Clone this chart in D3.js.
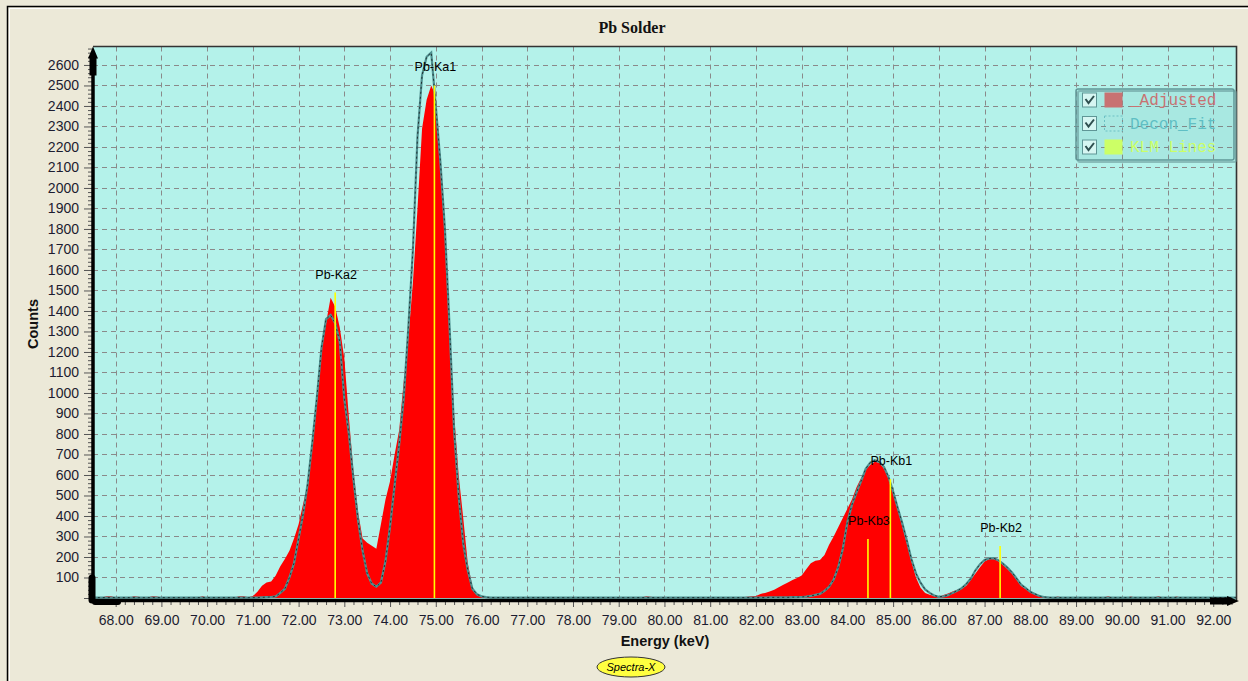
<!DOCTYPE html>
<html><head><meta charset="utf-8">
<script src="https://cdn.jsdelivr.net/npm/d3@7"></script>
<style>html,body{margin:0;padding:0;background:#ECE9D8;overflow:hidden;} svg{display:block;}</style>
</head><body>
<svg id="c" width="1248" height="681"></svg>
<script>
// ---------------- DATA ----------------
const chartTitle = "Pb Solder";
const xAxisTitle = "Energy (keV)";
const yAxisTitle = "Counts";
const badgeText = "Spectra-X";
const legendNames = ["_Adjusted", "Decon_Fit", "KLM Lines"];

// channel calibration: first bin centre (keV) and bin width (keV)
const energyStart = 67.5;
const energyStep = 0.1;

// Adjusted spectrum counts, one per 0.1 keV bin from 67.5 keV
const adjustedCounts = [
  2, 2, 3, 8, 8, 2, 2, 2, 2, 8,            // 67.5 - 68.4
  6, 2, 2, 8, 7, 2, 2, 2, 2, 2,            // 68.5 - 69.4
  2, 2, 2, 2, 8, 2, 2, 2, 2, 2,            // 69.5 - 70.4
  2, 2, 8, 8, 4, 10, 30, 60, 75, 80,       // 70.5 - 71.4
  110, 155, 190, 230, 290, 360, 460, 560, 750, 960,        // 71.5 - 72.4
  1220, 1340, 1465, 1420, 1320, 1170, 880, 620, 420, 290,  // 72.5 - 73.4
  270, 255, 240, 360, 480, 570, 700, 820, 1060, 1270,      // 73.5 - 74.4
  1540, 1900, 2290, 2430, 2500, 2450, 2100, 1780, 1320, 900, // 74.5 - 75.4
  600, 390, 170, 55, 15, 5, 3, 2, 2, 2,    // 75.5 - 76.4
  2, 2, 2, 2, 2, 2, 2, 2, 2, 2,            // 76.5 - 77.4
  2, 2, 2, 2, 2, 2, 2, 2, 2, 2,            // 77.5 - 78.4
  2, 2, 2, 2, 2, 2, 2, 2, 2, 2,            // 78.5 - 79.4
  2, 8, 6, 2, 2, 2, 2, 2, 2, 2,            // 79.5 - 80.4
  2, 2, 2, 2, 2, 2, 2, 2, 2, 2,            // 80.5 - 81.4
  2, 3, 4, 6, 8, 10, 20, 25, 32, 40,       // 81.5 - 82.4
  52, 65, 75, 88, 98, 110, 140, 170, 182, 185,   // 82.5 - 83.4
  210, 260, 300, 345, 390, 435, 480, 540, 585, 625, // 83.5 - 84.4
  650, 665, 660, 630, 590, 530, 440, 350, 270, 180, // 84.5 - 85.4
  100, 50, 25, 16, 10, 5, 15, 22, 32, 40,  // 85.5 - 86.4
  45, 60, 90, 120, 150, 178, 190, 192, 180, 162,    // 86.5 - 87.4
  142, 120, 90, 58, 44, 32, 20, 10, 5, 3,  // 87.5 - 88.4
  2, 7, 2, 2, 2, 2, 2, 2, 2, 2,            // 88.5 - 89.4
  2, 2, 8, 2, 2, 2, 2, 7, 2, 2,            // 89.5 - 90.4
  2, 2, 2, 8, 2, 2, 2, 7, 2, 2,            // 90.5 - 91.4
  2, 2, 2, 2, 2, 2, 2, 2, 2, 2,            // 91.5 - 92.4
  2                                        // 92.5
];

// Deconvolution fit, same bins
const deconFitCounts = [
  2, 2, 2, 2, 2, 2, 2, 2, 2, 2,            // 67.5 - 68.4
  2, 2, 2, 2, 2, 2, 2, 2, 2, 2,            // 68.5 - 69.4
  2, 2, 2, 2, 2, 2, 2, 2, 2, 2,            // 69.5 - 70.4
  2, 2, 2, 2, 2, 2, 2, 3, 4, 5,            // 70.5 - 71.4
  8, 25, 45, 100, 170, 290, 410, 560, 760, 980,          // 71.5 - 72.4
  1220, 1360, 1380, 1340, 1250, 970, 800, 580, 380, 230, // 72.5 - 73.4
  120, 70, 55, 75, 180, 350, 550, 750, 980, 1320,        // 73.5 - 74.4
  1700, 2250, 2550, 2640, 2660, 2400, 2130, 1800, 1330, 820, // 74.5 - 75.4
  500, 265, 135, 45, 18, 8, 4, 2, 2, 2,    // 75.5 - 76.4
  2, 2, 2, 2, 2, 2, 2, 2, 2, 2,            // 76.5 - 77.4
  2, 2, 2, 2, 2, 2, 2, 2, 2, 2,            // 77.5 - 78.4
  2, 2, 2, 2, 2, 2, 2, 2, 2, 2,            // 78.5 - 79.4
  2, 2, 2, 2, 2, 2, 2, 2, 2, 2,            // 79.5 - 80.4
  2, 2, 2, 2, 2, 2, 2, 2, 2, 2,            // 80.5 - 81.4
  2, 2, 2, 2, 2, 2, 2, 2, 3, 3,            // 81.5 - 82.4
  3, 3, 3, 4, 4, 5, 7, 10, 15, 20,         // 82.5 - 83.4
  35, 55, 90, 150, 240, 370, 455, 515, 570, 630,   // 83.5 - 84.4
  660, 672, 664, 640, 590, 520, 440, 365, 280, 190, // 84.5 - 85.4
  120, 75, 42, 25, 12, 6, 8, 14, 25, 35,   // 85.5 - 86.4
  48, 68, 95, 135, 165, 185, 193, 194, 184, 168,   // 86.5 - 87.4
  148, 125, 95, 65, 48, 30, 20, 10, 5, 3,  // 87.5 - 88.4
  2, 2, 2, 2, 2, 2, 2, 2, 2, 2,            // 88.5 - 89.4
  2, 2, 2, 2, 2, 2, 2, 2, 2, 2,            // 89.5 - 90.4
  2, 2, 2, 2, 2, 2, 2, 2, 2, 2,            // 90.5 - 91.4
  2, 2, 2, 2, 2, 2, 2, 2, 2, 2,            // 91.5 - 92.4
  2                                        // 92.5
];

// KLM marker lines
const klmLabels   = ["Pb-Ka2", "Pb-Ka1", "Pb-Kb3", "Pb-Kb1", "Pb-Kb2"];
const klmEnergies = [72.80, 74.97, 84.45, 84.94, 87.34];
const klmHeights  = [1490, 2500, 288, 580, 254];

// ticks
const xTickValues = [68,69,70,71,72,73,74,75,76,77,78,79,80,81,82,83,84,85,86,87,88,89,90,91,92];
const yTickValues = [100,200,300,400,500,600,700,800,900,1000,1100,1200,1300,1400,1500,1600,1700,1800,1900,2000,2100,2200,2300,2400,2500,2600];
const xDomain = [67.5, 92.5];
const yDomain = [0, 2690];

// ---------------- DRAW ----------------
const svg = d3.select("#c");
const W = 1248, H = 681;
const P = {left: 93, right: 1236.5, top: 46.5, bottom: 598};

svg.append("rect").attr("width", W).attr("height", H).attr("fill", "#ECE9D8");
// outer frame
svg.append("path").attr("d", `M7.5,${H+2} V6.5 H${W+2}`).attr("fill", "none").attr("stroke", "#000").attr("stroke-width", 1.5);
svg.append("path").attr("d", `M9.5,${H+2} V8.5 H${W+2}`).attr("fill", "none").attr("stroke", "#fff").attr("stroke-width", 1);

const x = d3.scaleLinear().domain(xDomain).range([92.8, 1236.1]);
const y = d3.scaleLinear().domain(yDomain).range([P.bottom, P.top]);

// plot background
svg.append("rect").attr("x", P.left).attr("y", P.top).attr("width", P.right - P.left).attr("height", P.bottom - P.top + 2)
  .attr("fill", "#B4F2EA");

const defs = svg.append("defs");
defs.append("clipPath").attr("id", "clip").append("rect")
  .attr("x", P.left).attr("y", P.top).attr("width", P.right - P.left).attr("height", P.bottom - P.top + 1);

// grid
const grid = svg.append("g").attr("stroke", "#8a8a8a").attr("stroke-width", 1).attr("stroke-dasharray", "5,4");
grid.selectAll("line.v").data(xTickValues).join("line")
  .attr("x1", d => Math.round(x(d)) + 0.5).attr("x2", d => Math.round(x(d)) + 0.5)
  .attr("y1", P.top).attr("y2", P.bottom);
grid.selectAll("line.h").data(yTickValues).join("line")
  .attr("x1", P.left).attr("x2", P.right)
  .attr("y1", d => Math.round(y(d)) + 0.5).attr("y2", d => Math.round(y(d)) + 0.5);

const energies = adjustedCounts.map((_, i) => energyStart + i * energyStep);
const plot = svg.append("g").attr("clip-path", "url(#clip)");

// adjusted spectrum (red area)
const area = d3.area().x((d, i) => x(energies[i])).y0(y(0)).y1(d => y(d)).curve(d3.curveLinear);
plot.append("path").datum(adjustedCounts).attr("d", area).attr("fill", "#FF0000");

// decon fit
const line = d3.line().x((d, i) => x(energies[i])).y(d => y(d)).curve(d3.curveLinear);
plot.append("path").datum(deconFitCounts).attr("d", line).attr("fill", "none")
  .attr("stroke", "#4f9090").attr("stroke-width", 2.2);
plot.append("path").datum(deconFitCounts).attr("d", line).attr("fill", "none")
  .attr("stroke", "#111").attr("stroke-width", 1).attr("stroke-dasharray", "2,3").attr("opacity", 0.75);

// KLM lines
const klm = klmLabels.map((l, i) => ({label: l, e: klmEnergies[i], h: klmHeights[i]}));
plot.selectAll("line.klm").data(klm).join("line")
  .attr("x1", d => x(d.e)).attr("x2", d => x(d.e))
  .attr("y1", y(0)).attr("y2", d => y(d.h))
  .attr("stroke", "#FFFF00").attr("stroke-width", 1.6);
svg.selectAll("text.klm").data(klm).join("text")
  .attr("x", d => x(d.e) + 1).attr("y", d => y(d.h) - 14)
  .attr("text-anchor", "middle").attr("font-family", "Liberation Sans, Arial, sans-serif")
  .attr("font-size", 12.5).attr("fill", "#000").text(d => d.label);

// plot border (top/right)
svg.append("path").attr("d", `M${P.left},${P.top} H${P.right} V${P.bottom+2}`).attr("fill", "none")
  .attr("stroke", "#333").attr("stroke-width", 1.6);

// axes
const xMajor = d3.axisBottom(x).tickValues(xTickValues).tickFormat(d3.format(".2f")).tickSize(6).tickPadding(8);
const xMinorVals = d3.range(67.6, 92.5, 0.2).filter(v => Math.abs(v - Math.round(v)) > 0.05);
const xMinor = d3.axisBottom(x).tickValues(xMinorVals).tickFormat("").tickSize(4);
const yMajor = d3.axisLeft(y).tickValues([0].concat(yTickValues)).tickFormat(d => d === 0 ? "" : d).tickSize(8).tickPadding(5);
const yMinorVals = d3.range(20, 2690, 20).filter(v => v % 100 !== 0);
const yMinor = d3.axisLeft(y).tickValues(yMinorVals).tickFormat("").tickSize(4);

function styleAxis(g) {
  g.select(".domain").remove();
  g.selectAll("line").attr("stroke", "#555").attr("stroke-width", 1);
  g.selectAll("text").attr("font-family", "Liberation Sans, Arial, sans-serif").attr("font-size", 14).attr("fill", "#1c1c30");
}
svg.append("g").attr("transform", `translate(0,${P.bottom + 3})`).call(xMinor).call(styleAxis);
svg.append("g").attr("transform", `translate(0,${P.bottom + 3})`).call(xMajor).call(styleAxis);
svg.append("g").attr("transform", `translate(${P.left - 1},0)`).call(yMinor).call(styleAxis);
svg.append("g").attr("transform", `translate(${P.left - 1},0)`).call(yMajor).call(styleAxis);

// axis lines with arrows
svg.append("line").attr("x1", P.left).attr("x2", P.left).attr("y1", 70).attr("y2", P.bottom + 3)
  .attr("stroke", "#000").attr("stroke-width", 3.5);
svg.append("line").attr("x1", P.left).attr("x2", 1215).attr("y1", P.bottom + 2.5).attr("y2", P.bottom + 2.5)
  .attr("stroke", "#000").attr("stroke-width", 3.5);
// y arrow
svg.append("path").attr("d", `M${P.left},${P.top} L${P.left+5},${P.top+12} L${P.left+3.5},${P.top+12} L${P.left+3.5},${P.top+29} L${P.left-3.5},${P.top+29} L${P.left-3.5},${P.top+12} L${P.left-5},${P.top+12} Z`)
  .attr("fill", "#000");
// x arrow
const ay = P.bottom + 3;
svg.append("path").attr("d", `M1239,${ay} L1227,${ay-5} L1227,${ay-3.5} L1210,${ay-3.5} L1210,${ay+3.5} L1227,${ay+3.5} L1227,${ay+5} Z`)
  .attr("fill", "#000");
// origin tails
svg.append("line").attr("x1", P.left - 1).attr("x2", P.left - 1).attr("y1", 578).attr("y2", 600)
  .attr("stroke", "#000").attr("stroke-width", 7).attr("stroke-linecap", "round");
svg.append("line").attr("x1", P.left + 2).attr("x2", 118).attr("y1", 602).attr("y2", 602)
  .attr("stroke", "#000").attr("stroke-width", 6).attr("stroke-linecap", "round");

// titles
svg.append("text").attr("x", 632).attr("y", 33).attr("text-anchor", "middle")
  .attr("font-family", "Liberation Serif, Times New Roman, serif").attr("font-weight", "bold").attr("font-size", 16)
  .attr("fill", "#111").text(chartTitle);
svg.append("text").attr("x", 665).attr("y", 646).attr("text-anchor", "middle")
  .attr("font-family", "Liberation Sans, Arial, sans-serif").attr("font-weight", "bold").attr("font-size", 14.5)
  .attr("fill", "#111").text(xAxisTitle);
svg.append("text").attr("transform", "translate(38,324) rotate(-90)").attr("text-anchor", "middle")
  .attr("font-family", "Liberation Sans, Arial, sans-serif").attr("font-weight", "bold").attr("font-size", 14.5)
  .attr("fill", "#111").text(yAxisTitle);

// legend
const lg = svg.append("g");
lg.append("rect").attr("x", 1078).attr("y", 91).attr("width", 158).attr("height", 71).attr("rx", 2)
  .attr("fill", "none").attr("stroke", "#6a9a9a").attr("stroke-width", 2).attr("opacity", 0.6);
lg.append("rect").attr("x", 1076).attr("y", 89).attr("width", 158).attr("height", 71).attr("rx", 2)
  .attr("fill", "rgba(70,150,150,0.10)").attr("stroke", "#5f9696").attr("stroke-width", 1.5);
const rowY = [100, 123.5, 147];
const legendText = ["#c87272", "#5fbfc4", "#ccff66"];
legendNames.forEach((name, i) => {
  const cy = rowY[i];
  lg.append("rect").attr("x", 1082.5).attr("y", cy - 7).attr("width", 14).attr("height", 14)
    .attr("fill", "#d6f6f2").attr("stroke", "#5f9696").attr("stroke-width", 1);
  lg.append("path").attr("d", `M1085.5,${cy-1} L1088.5,${cy+3} L1094,${cy-4}`).attr("fill", "none")
    .attr("stroke", "#2f4f4f").attr("stroke-width", 2);
  const sw = lg.append("rect").attr("x", 1104.5).attr("y", cy - 7.5).attr("width", 18).attr("height", 15);
  if (i === 0) sw.attr("fill", "#c87272");
  else if (i === 1) sw.attr("fill", "none").attr("stroke", "#6cc0c4").attr("stroke-width", 1).attr("stroke-dasharray", "2,2");
  else sw.attr("fill", "#ccff66");
  lg.append("text").attr("x", 1130).attr("y", cy + 5).attr("font-family", "Liberation Mono, Courier New, monospace")
    .attr("font-size", 16).attr("fill", legendText[i]).text(name);
});

// Spectra-X badge
svg.append("ellipse").attr("cx", 631).attr("cy", 667).attr("rx", 34).attr("ry", 10)
  .attr("fill", "#ffff40").attr("stroke", "#333").attr("stroke-width", 1);
svg.append("text").attr("x", 631).attr("y", 671).attr("text-anchor", "middle")
  .attr("font-family", "Liberation Sans, Arial, sans-serif").attr("font-style", "italic").attr("font-size", 11)
  .attr("fill", "#000").text(badgeText);
</script>
</body></html>
